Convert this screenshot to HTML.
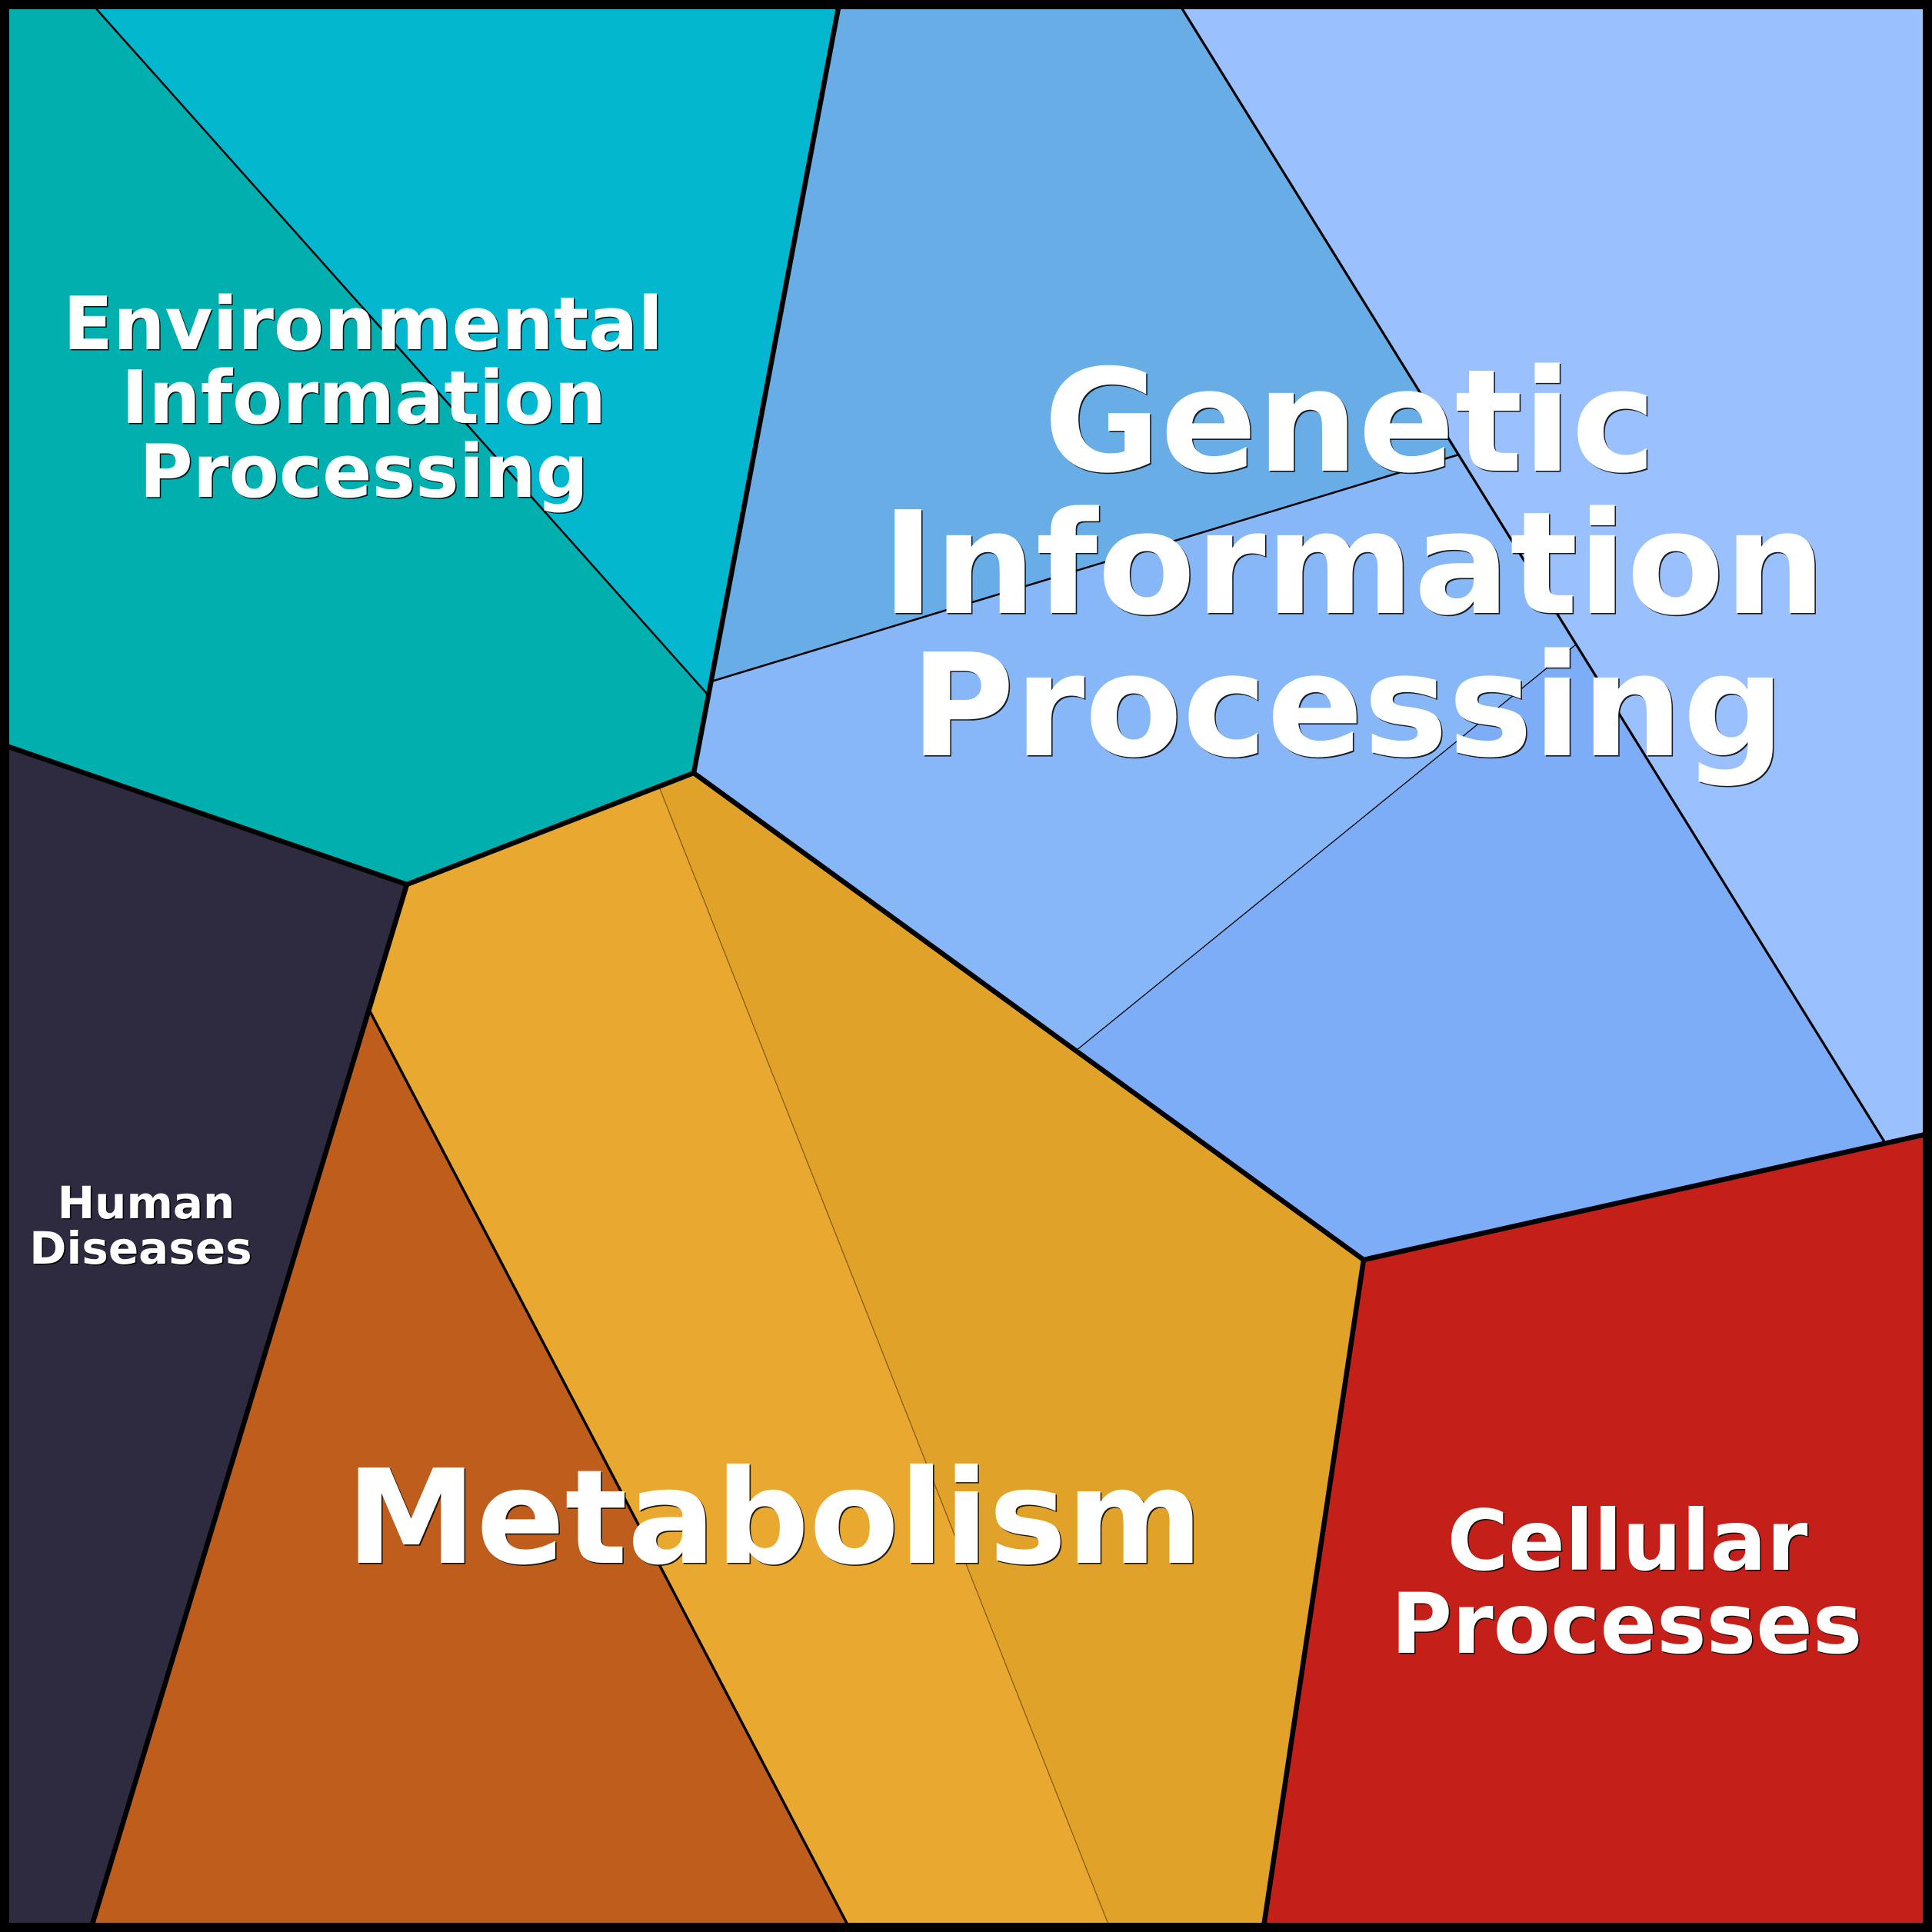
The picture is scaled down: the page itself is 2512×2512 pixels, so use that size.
<!DOCTYPE html>
<html>
<head>
<meta charset="utf-8">
<style>
  html, body { margin: 0; padding: 0; background: #000; }
  svg { display: block; }
  text { font-family: "DejaVu Sans", "Liberation Sans", sans-serif; font-weight: bold; }
</style>
</head>
<body>
<svg xmlns="http://www.w3.org/2000/svg" width="2512" height="2512" viewBox="0 0 2512 2512">
  <!-- Environmental Information Processing -->
  <polygon points="115,0 921,904 902,1005 529,1150 0,967 0,0" fill="#00AFAE"/>
  <polygon points="115,0 1092,0 921,904" fill="#02B7CE"/>
  <!-- Genetic Information Processing -->
  <polygon points="1091,0 1530,0 1897,591 925,886" fill="#68ADE5"/>
  <polygon points="1530,0 2512,0 2512,1473 2451,1486" fill="#9AC1FD"/>
  <polygon points="925,886 1897,591 2049,838 1399,1366 902,1005" fill="#87B7F7"/>
  <polygon points="1399,1366 2049,838 2451,1486 1773,1638" fill="#7EADF8"/>
  <!-- Human Diseases -->
  <polygon points="0,967 529,1150 117,2512 0,2512" fill="#2E2B41"/>
  <!-- Metabolism -->
  <polygon points="480,1313 1107,2512 117,2512" fill="#BF5E1C"/>
  <polygon points="529,1150 857,1023 1445,2512 1107,2512 480,1313" fill="#E9A830"/>
  <polygon points="857,1023 902,1005 1773,1638 1642,2512 1445,2512" fill="#E0A229"/>
  <!-- Cellular Processes -->
  <polygon points="1773,1638 2512,1473 2512,2512 1642,2512" fill="#C41F18"/>

  <!-- very thin lines -->
  <line x1="857" y1="1023" x2="1445" y2="2512" stroke="#5a3c08" stroke-opacity="0.7" stroke-width="1.2"/>
  <line x1="1399" y1="1366" x2="2049" y2="838" stroke="#000" stroke-width="1.3"/>
  <!-- thin lines -->
  <line x1="115" y1="0" x2="921" y2="904" stroke="#000" stroke-width="2.5"/>
  <line x1="925" y1="886" x2="1897" y2="591" stroke="#000" stroke-width="2.5"/>
  <line x1="1530" y1="0" x2="2451" y2="1486" stroke="#000" stroke-width="3.2"/>
  <line x1="480" y1="1313" x2="1107" y2="2512" stroke="#000" stroke-width="3.5"/>
  <!-- thick lines -->
  <g stroke="#000" stroke-width="6.5" stroke-linejoin="round" stroke-linecap="round" fill="none">
    <line x1="1092" y1="0" x2="902" y2="1005"/>
    <line x1="902" y1="1005" x2="529" y2="1150"/>
    <line x1="529" y1="1150" x2="0" y2="967"/>
    <line x1="529" y1="1150" x2="117" y2="2512"/>
    <line x1="902" y1="1005" x2="1773" y2="1638"/>
    <line x1="1773" y1="1638" x2="2512" y2="1473"/>
    <line x1="1773" y1="1638" x2="1642" y2="2512"/>
  </g>

  <!-- frame -->
  <rect x="6" y="6" width="2500" height="2500" fill="none" stroke="#000" stroke-width="12"/>

  <!-- Labels: shadow -->
  <g fill="#000" fill-opacity="0.85" text-anchor="middle" transform="translate(1.6,1.6)">
    <text x="472" y="454" font-size="95">Environmental</text>
    <text x="473" y="550" font-size="95">Information</text>
    <text x="473" y="646" font-size="95">Processing</text>
    <text x="1755" y="612" font-size="185">Genetic</text>
    <text x="1760" y="797" font-size="185">Information</text>
    <text x="1752" y="982" font-size="185">Processing</text>
    <text x="1007" y="2032" font-size="170">Metabolism</text>
    <text x="2116" y="2041" font-size="108.5">Cellular</text>
    <text x="2115" y="2149" font-size="108.5">Processes</text>
    <text x="190" y="1584" font-size="58">Human</text>
    <text x="183" y="1643" font-size="58">Diseases</text>
  </g>
  <!-- Labels: white -->
  <g fill="#FFFFFF" text-anchor="middle">
    <text x="472" y="454" font-size="95">Environmental</text>
    <text x="473" y="550" font-size="95">Information</text>
    <text x="473" y="646" font-size="95">Processing</text>
    <text x="1755" y="612" font-size="185">Genetic</text>
    <text x="1760" y="797" font-size="185">Information</text>
    <text x="1752" y="982" font-size="185">Processing</text>
    <text x="1007" y="2032" font-size="170">Metabolism</text>
    <text x="2116" y="2041" font-size="108.5">Cellular</text>
    <text x="2115" y="2149" font-size="108.5">Processes</text>
    <text x="190" y="1584" font-size="58">Human</text>
    <text x="183" y="1643" font-size="58">Diseases</text>
  </g>
</svg>
</body>
</html>
